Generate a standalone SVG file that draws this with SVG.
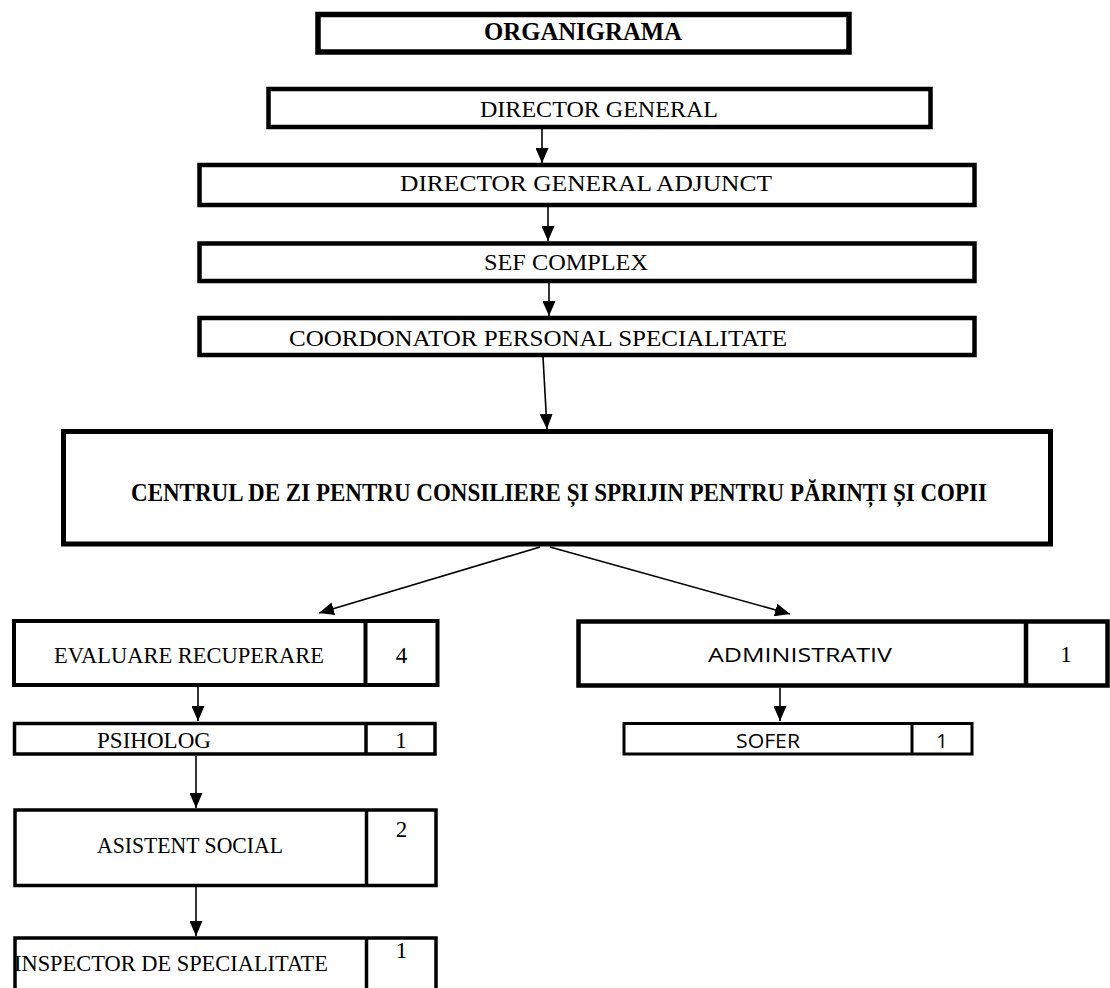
<svg xmlns="http://www.w3.org/2000/svg" width="1110" height="988" viewBox="0 0 1110 988">
<style>
.b{fill:#fff;stroke:#000}
.t{font-family:"Liberation Serif","Times New Roman",serif;font-size:23px;fill:#000}
.tb{font-family:"Liberation Serif","Times New Roman",serif;font-size:25px;font-weight:bold;fill:#000}
.s{font-family:"Open Sans","Noto Sans",sans-serif;font-size:20px;fill:#000}
.c{fill:none;stroke:#000;stroke-width:1.6}
</style>
<defs>
<marker id="ah" markerUnits="userSpaceOnUse" markerWidth="15" markerHeight="13" refX="15" refY="6.5" orient="auto">
<path d="M0,0 L15,6.5 L0,13 z" fill="#000"/>
</marker>
</defs>
<g id="connectors">
<line class="c" x1="542" y1="129" x2="542" y2="163" marker-end="url(#ah)"/>
<line class="c" x1="548" y1="207" x2="548" y2="241" marker-end="url(#ah)"/>
<line class="c" x1="549" y1="283" x2="549" y2="316" marker-end="url(#ah)"/>
<line class="c" x1="543" y1="357" x2="547" y2="429" marker-end="url(#ah)"/>
<line class="c" x1="540" y1="547" x2="319" y2="613" marker-end="url(#ah)"/>
<line class="c" x1="550" y1="547" x2="790" y2="614" marker-end="url(#ah)"/>
<line class="c" x1="198" y1="687" x2="198" y2="721" marker-end="url(#ah)"/>
<line class="c" x1="196" y1="756" x2="196" y2="808" marker-end="url(#ah)"/>
<line class="c" x1="196" y1="887" x2="196" y2="936" marker-end="url(#ah)"/>
<line class="c" x1="780" y1="688" x2="780" y2="721" marker-end="url(#ah)"/>
</g>
<g id="organigrama">
<rect class="b" x="318" y="14.5" width="531" height="37.5" stroke-width="5.5"/>
<text class="tb" x="484" y="40" textLength="198" lengthAdjust="spacingAndGlyphs">ORGANIGRAMA</text>
</g>
<g id="director-general">
<rect class="b" x="268.5" y="89" width="662" height="38" stroke-width="4.5"/>
<text class="t" x="480" y="117" textLength="238" lengthAdjust="spacingAndGlyphs">DIRECTOR GENERAL</text>
</g>
<g id="director-general-adjunct">
<rect class="b" x="199.5" y="165" width="775" height="40" stroke-width="4.5"/>
<text class="t" x="400" y="191" textLength="372" lengthAdjust="spacingAndGlyphs">DIRECTOR GENERAL ADJUNCT</text>
</g>
<g id="sef-complex">
<rect class="b" x="199.5" y="243.5" width="775" height="37.5" stroke-width="4.5"/>
<text class="t" x="484" y="270" textLength="164" lengthAdjust="spacingAndGlyphs">SEF COMPLEX</text>
</g>
<g id="coordonator">
<rect class="b" x="199.5" y="318" width="775" height="37" stroke-width="4.5"/>
<text class="t" x="289" y="346" textLength="498" lengthAdjust="spacingAndGlyphs">COORDONATOR PERSONAL SPECIALITATE</text>
</g>
<g id="centrul">
<rect class="b" x="63.5" y="431.5" width="987" height="112.5" stroke-width="5"/>
<text class="tb" x="131" y="501" textLength="856" lengthAdjust="spacingAndGlyphs">CENTRUL DE ZI PENTRU CONSILIERE ȘI SPRIJIN PENTRU PĂRINȚI ȘI COPII</text>
</g>
<g id="evaluare-recuperare">
<rect class="b" x="14" y="621" width="423.5" height="64" stroke-width="4"/>
<line x1="365.5" y1="621" x2="365.5" y2="685" stroke="#000" stroke-width="4"/>
<text class="t" x="54" y="663" textLength="270" lengthAdjust="spacingAndGlyphs">EVALUARE RECUPERARE</text>
<text class="t" x="401.5" y="663" text-anchor="middle">4</text>
</g>
<g id="psiholog">
<rect class="b" x="14.5" y="723.5" width="420.5" height="30.5" stroke-width="3.5"/>
<line x1="366" y1="723.5" x2="366" y2="754" stroke="#000" stroke-width="3.5"/>
<text class="t" x="97" y="748" textLength="114" lengthAdjust="spacingAndGlyphs">PSIHOLOG</text>
<text class="t" x="401" y="748" text-anchor="middle">1</text>
</g>
<g id="asistent-social">
<rect class="b" x="15" y="810" width="421" height="75.5" stroke-width="3.5"/>
<line x1="366.5" y1="810" x2="366.5" y2="885.5" stroke="#000" stroke-width="3.5"/>
<text class="t" x="97" y="853" textLength="186" lengthAdjust="spacingAndGlyphs">ASISTENT SOCIAL</text>
<text class="t" x="401.5" y="837" text-anchor="middle">2</text>
</g>
<g id="inspector-de-specialitate">
<rect class="b" x="15" y="938" width="421" height="70" stroke-width="3.5"/>
<line x1="366.5" y1="938" x2="366.5" y2="1008" stroke="#000" stroke-width="3.5"/>
<text class="t" x="14" y="971" textLength="314" lengthAdjust="spacingAndGlyphs">INSPECTOR DE SPECIALITATE</text>
<text class="t" x="401.5" y="958" text-anchor="middle">1</text>
</g>
<g id="administrativ">
<rect class="b" x="578.5" y="621.5" width="529" height="64" stroke-width="4.5"/>
<line x1="1026" y1="621.5" x2="1026" y2="685.5" stroke="#000" stroke-width="4.5"/>
<text class="s" x="708" y="662" textLength="184" lengthAdjust="spacingAndGlyphs">ADMINISTRATIV</text>
<text class="t" x="1066" y="662" text-anchor="middle">1</text>
</g>
<g id="sofer">
<rect class="b" x="624" y="723.5" width="348" height="30.5" stroke-width="3"/>
<line x1="912" y1="723.5" x2="912" y2="754" stroke="#000" stroke-width="3"/>
<text class="s" x="736" y="748" textLength="64" lengthAdjust="spacingAndGlyphs">SOFER</text>
<text class="s" x="942" y="748" text-anchor="middle">1</text>
</g>
</svg>
